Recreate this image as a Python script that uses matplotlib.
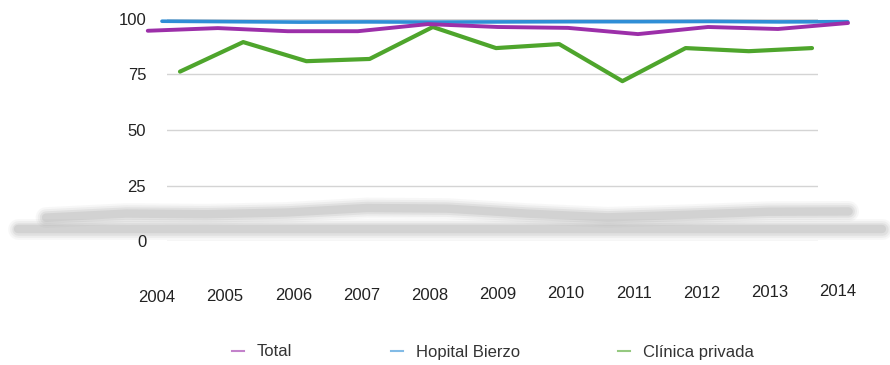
import numpy as np
import matplotlib
matplotlib.use("Agg")
import matplotlib.pyplot as plt
from matplotlib.lines import Line2D

plt.rcParams['font.family'] = ['Liberation Sans', 'DejaVu Sans']

years = [2004, 2005, 2006, 2007, 2008, 2009, 2010, 2011, 2012, 2013, 2014]
year_labels = [str(y) for y in years]
total = [94.7, 95.9, 94.5, 94.5, 97.7, 96.4, 96.0, 93.2, 96.4, 95.5, 98.2]
hospital = [99.0, 98.8, 98.6, 98.7, 98.6, 98.7, 98.8, 98.8, 98.9, 98.7, 98.8]
privada = [76.3, 89.6, 81.0, 82.0, 96.4, 86.9, 88.7, 72.0, 86.9, 85.5, 86.9]
yticks = [0, 25, 50, 75, 100]
series_names = ["Total", "Hopital Bierzo", "Clínica privada"]

c_total = '#9c2fa9'
c_hosp = '#2f8ed6'
c_priv = '#4ea52c'

W, H = 890, 365
fig = plt.figure(figsize=(W / 100, H / 100), dpi=100)
ax_l, ax_r = 167, 818
ax_top, ax_bot = 19, 241
ax = fig.add_axes([ax_l / W, (H - ax_bot) / H, (ax_r - ax_l) / W, (ax_bot - ax_top) / H])

# x-limits so that 2004 sits at px 180 and 2014 at px 812
px_first, px_last = 180, 812
px_per_year = (px_last - px_first) / 10
x0 = 2004 - (px_first - ax_l) / px_per_year
x1 = 2014 + (ax_r - px_last) / px_per_year
ax.set_xlim(x0, x1)
ax.set_ylim(0, 100)

for s in ax.spines.values():
    s.set_visible(False)

# gridlines
for t in yticks:
    ax.axhline(t, color='#d4d4d4', lw=1.0, zorder=1)

yr = np.array(years, dtype=float)

# grey reflection / shadow bands (derived from series, stretched in perspective)
pv = np.array(privada)
sh_x = 2008.23 + (yr - 2009) * 1.27
smooth = np.convolve(np.pad(pv, 1, mode='edge'), [0.25, 0.5, 0.25], mode='valid')
sh_y = 12.6 + 0.4 * (smooth - smooth.mean())
span = ax_r - ax_l
for lw, a in [(15, 0.07), (12, 0.10), (9, 0.15), (6, 0.20)]:
    ax.plot(sh_x, sh_y, color='#9a9a9a', lw=lw, alpha=a, solid_capstyle='round',
            clip_on=False, zorder=1.5)
    ax.axhline(5.4, xmin=(18 - ax_l) / span, xmax=(882 - ax_l) / span,
               color='#9a9a9a', lw=lw, alpha=a, solid_capstyle='round', clip_on=False,
               zorder=1.5)

# perspective stretch for the two upper (farther-back) series
total_x = 2009.03 + (yr - 2009) * 1.108
hosp_x = 2009.14 + (yr - 2009) * 1.085

# data lines
ax.plot(hosp_x, hospital, color=c_hosp, lw=2.6, clip_on=False, zorder=3, solid_capstyle='round')
ax.plot(years, privada, color=c_priv, lw=3.0, clip_on=False, zorder=4, solid_capstyle='round')
ax.plot(total_x, total, color=c_total, lw=2.8, clip_on=False, zorder=5, solid_capstyle='round')

# y ticks
ax.set_yticks(yticks)
ax.set_yticklabels([str(t) for t in yticks], fontsize=12, color='#222222')
ax.tick_params(axis='y', length=0, pad=15)
ax.set_xticks([])

# x labels (spread slightly wider than data, as in perspective)
lab_x = 2004 + (157 - px_first) / px_per_year + (yr - 2004) * ((838 - 157) / 10 / px_per_year)
for i, (lx, lab) in enumerate(zip(lab_x, year_labels)):
    ypx = 297 - i * 0.5
    ax.text(lx, (ax_bot - ypx) / (ax_bot - ax_top) * 100, lab, ha='center', va='center',
            fontsize=12, color='#222222', clip_on=False)

# legend
handles = [Line2D([], [], color=c, lw=1.5, alpha=0.6) for c in (c_total, c_hosp, c_priv)]
fig.legend(handles, series_names, loc='center', bbox_to_anchor=(493 / W, (H - 352) / H),
           ncol=3, frameon=False, fontsize=12, handlelength=0.72, handletextpad=0.78,
           columnspacing=5.9, labelcolor='#333333')

fig.savefig("out.png", dpi=100)
